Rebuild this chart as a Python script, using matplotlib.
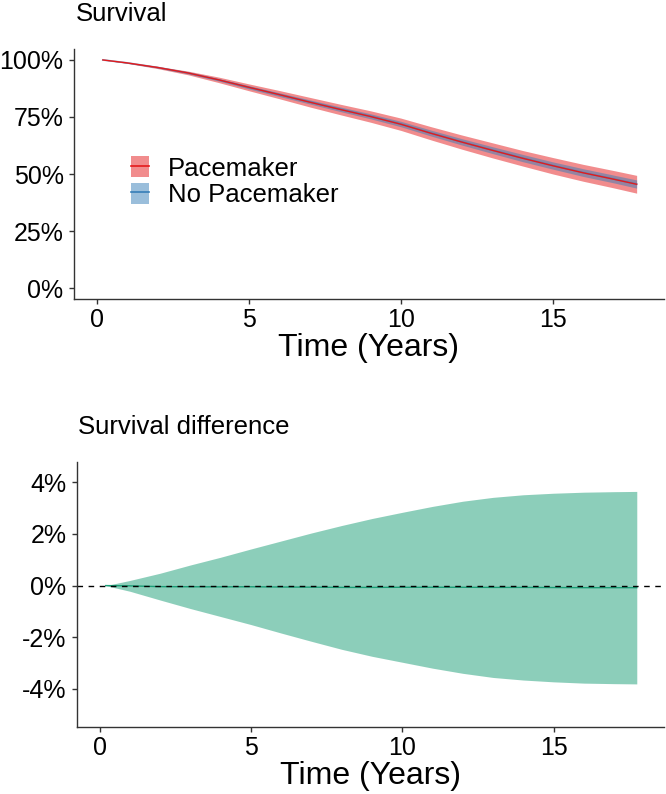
import matplotlib
matplotlib.use("Agg")
import matplotlib.pyplot as plt
from matplotlib.lines import Line2D
from matplotlib.patches import Patch
from matplotlib.legend_handler import HandlerTuple
from matplotlib.ticker import FuncFormatter
import numpy as np

plt.rcParams['font.family'] = ['Liberation Sans', 'DejaVu Sans']

# time grid (years)
t = [0.2, 1, 2, 3, 4, 5, 6, 7, 8, 9, 10, 11, 12, 13, 14, 15, 16, 17, 17.75]

# survival, pacemaker group, with half-width of its band
pace_surv = [1.000, 0.987, 0.967, 0.943, 0.913, 0.880, 0.848, 0.815, 0.783, 0.752,
             0.718, 0.678, 0.640, 0.604, 0.569, 0.536, 0.505, 0.477, 0.455]
pace_half = [0.000, 0.002, 0.005, 0.008, 0.012, 0.015, 0.018, 0.021, 0.023, 0.025,
             0.027, 0.029, 0.031, 0.033, 0.034, 0.036, 0.037, 0.038, 0.039]

# survival, no pacemaker group
nopace_surv = [1.000, 0.987, 0.967, 0.943, 0.913, 0.880, 0.848, 0.816, 0.784, 0.753,
               0.719, 0.679, 0.641, 0.605, 0.570, 0.537, 0.506, 0.478, 0.456]
nopace_half = [0.000, 0.001, 0.002, 0.004, 0.005, 0.007, 0.008, 0.009, 0.010, 0.011,
               0.012, 0.013, 0.014, 0.015, 0.016, 0.016, 0.017, 0.017, 0.018]

# survival difference (percent)
diff_mid = [0.0, -0.01, -0.04, -0.045, -0.05, -0.045, -0.055, -0.06, -0.07, -0.07,
            -0.065, -0.065, -0.065, -0.07, -0.07, -0.075, -0.08, -0.08, -0.08]
diff_hi = [0.0, 0.20, 0.48, 0.80, 1.10, 1.42, 1.73, 2.04, 2.33, 2.60,
           2.84, 3.07, 3.27, 3.42, 3.52, 3.58, 3.62, 3.64, 3.65]
diff_lo = [0.0, -0.22, -0.56, -0.89, -1.20, -1.51, -1.84, -2.16, -2.47, -2.74,
           -2.97, -3.20, -3.40, -3.56, -3.66, -3.73, -3.78, -3.80, -3.81]

red = "#E41A1C"
blue = "#377EB8"
teal = "#1B9E77"
axcol = "#333333"

fig = plt.figure(figsize=(6.66, 7.94), dpi=100)
ax1 = fig.add_axes([74/666, 1-299/794, 590/666, 250/794])
ax2 = fig.add_axes([77/666, 1-727/794, 587/666, 265/794])

ps = np.array(pace_surv)
ph = np.array(pace_half)
ns = np.array(nopace_surv)
nh = np.array(nopace_half)

ax1.fill_between(t, ps - ph, ps + ph, color=red, alpha=0.5, lw=0)
ax1.fill_between(t, ns - nh, ns + nh, color=blue, alpha=0.5, lw=0)
ax1.plot(t, nopace_surv, color=blue, lw=1.3, alpha=0.6)
ax1.plot(t, pace_surv, color=red, lw=1.0)

ax1.set_xlim(-0.75, 18.65)
ax1.set_ylim(-0.048, 1.048)
ax1.set_yticks([0, 0.25, 0.5, 0.75, 1.0])
ax1.yaxis.set_major_formatter(FuncFormatter(lambda v, p: f"{v*100:.0f}%"))

h1 = (Patch(facecolor=red, alpha=0.5, lw=0), Line2D([], [], color=red, lw=1.2))
h2 = (Patch(facecolor=blue, alpha=0.5, lw=0), Line2D([], [], color=blue, lw=1.2))
ax1.legend([h1, h2], ["Pacemaker", "No Pacemaker"],
           handler_map={tuple: HandlerTuple(ndivide=1, pad=0)},
           loc="upper left", bbox_to_anchor=(131/666, 1-156/794), bbox_transform=fig.transFigure,
           frameon=False, fontsize=18.5, handlelength=0.7, handleheight=0.9,
           handletextpad=0.75, labelspacing=0.08, borderaxespad=0, borderpad=0)

ax2.fill_between(t, diff_lo, diff_hi, color=teal, alpha=0.5, lw=0)
ax2.plot(t, diff_mid, color=teal, lw=1.0)
ax2.axhline(0, color="black", lw=1.0, ls=(0, (4, 4)))
ax2.set_xlim(-0.75, 18.65)
ax2.set_ylim(-5.48, 4.79)
ax2.set_yticks([-4, -2, 0, 2, 4])
ax2.yaxis.set_major_formatter(FuncFormatter(lambda v, p: f"{v:.0f}%"))

for ax in (ax1, ax2):
    ax.set_xticks([0, 5, 10, 15])
    for s in ("top", "right"):
        ax.spines[s].set_visible(False)
    for s in ("left", "bottom"):
        ax.spines[s].set_color(axcol)
        ax.spines[s].set_linewidth(1.0)
    ax.tick_params(colors=axcol, labelcolor="black", labelsize=18, length=3.5, width=1.0)
    ax.tick_params(axis="x", pad=3)
    ax.tick_params(axis="y", pad=4)
    ax.set_xlabel("Time (Years)", fontsize=23, labelpad=1)

fig.text(76/666, 1-21/794, "Survival", fontsize=18.5, va="baseline", ha="left")
fig.text(78/666, 1-434/794, "Survival difference", fontsize=18.5, va="baseline", ha="left")

fig.savefig("out.png", dpi=100)
